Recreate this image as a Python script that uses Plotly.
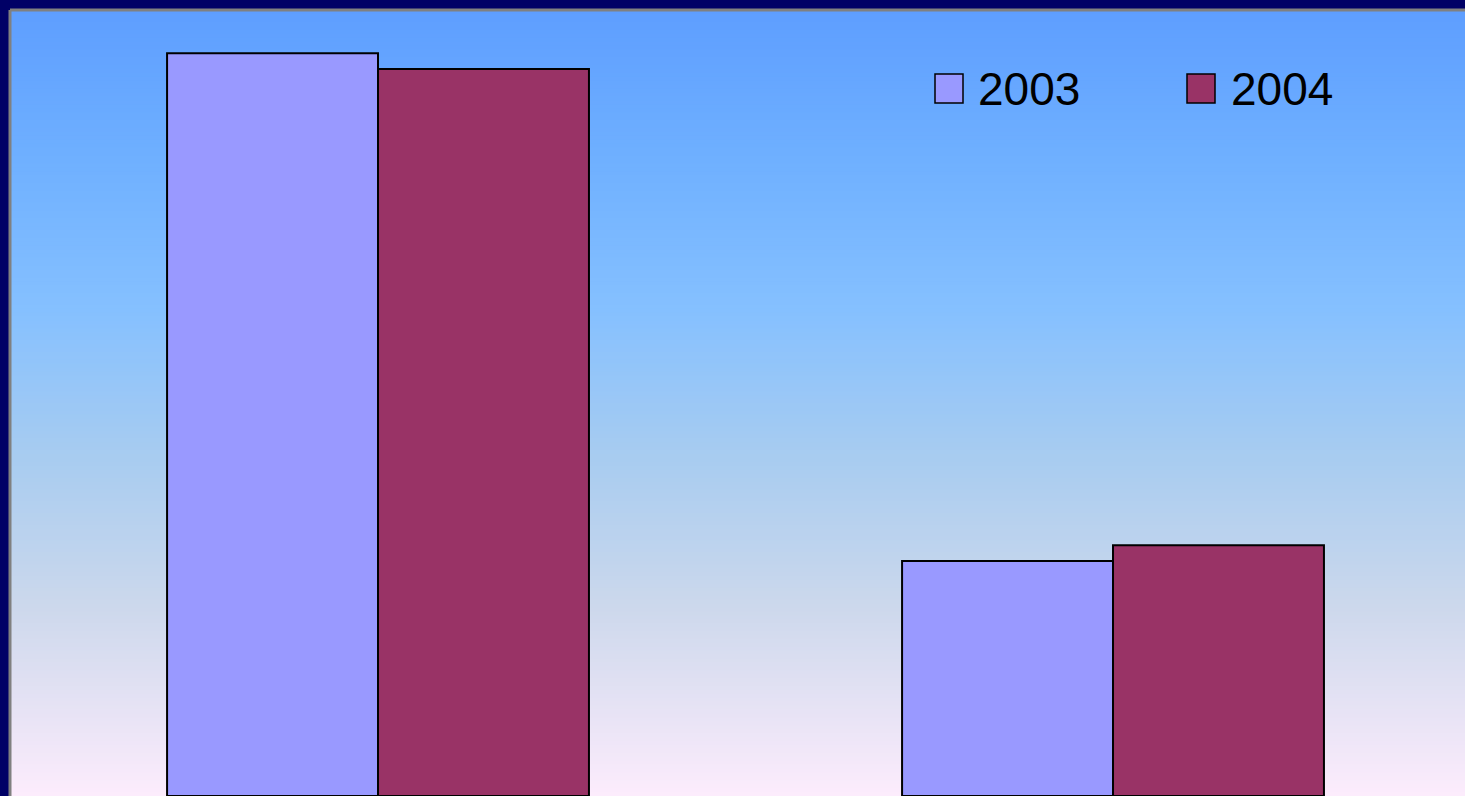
import plotly.graph_objects as go

# ---- data ----
categories = ["Category 1", "Category 2"]
series_names = ["2003", "2004"]
values_2003 = [94.5, 29.9]
values_2004 = [92.5, 31.9]
series_colors = ["#9999FF", "#993366"]

# ---- gradient stops for plot background (fraction from top, rgb) ----
grad_stops = [
    (0.0, (94, 158, 255)),
    (0.19, (111, 176, 255)),
    (0.38, (133, 192, 255)),
    (0.57, (168, 204, 240)),
    (0.76, (204, 216, 236)),
    (1.0, (253, 236, 252)),
]


def interp(f):
    for (f0, c0), (f1, c1) in zip(grad_stops[:-1], grad_stops[1:]):
        if f0 <= f <= f1:
            t = (f - f0) / (f1 - f0) if f1 > f0 else 0
            return "rgb(%d,%d,%d)" % tuple(round(a + (b - a) * t) for a, b in zip(c0, c1))
    return "rgb(%d,%d,%d)" % grad_stops[-1][1]


fig = go.Figure()
for name, vals, col in zip(series_names, [values_2003, values_2004], series_colors):
    fig.add_trace(go.Bar(
        x=categories, y=vals, name=name,
        marker=dict(color=col, line=dict(color="black", width=2)),
    ))

shapes = []
n = 200
for i in range(n):
    f0 = i / n
    f1 = (i + 1) / n
    shapes.append(dict(type="rect", xref="paper", yref="paper",
                       x0=0, x1=1, y0=1 - f1 - 0.001, y1=1 - f0,
                       fillcolor=interp((f0 + f1) / 2), line=dict(width=0),
                       layer="below"))
# inset gray edge on left and top
shapes.append(dict(type="line", xref="paper", yref="paper", x0=0, x1=0, y0=0, y1=1,
                   line=dict(color="#808080", width=3), layer="above"))
shapes.append(dict(type="line", xref="paper", yref="paper", x0=0, x1=1, y0=1, y1=1,
                   line=dict(color="#808080", width=3), layer="above"))

# custom legend (large squares)
W, H = 1465, 796
ml, mt = 10, 10
pw, ph = W - ml, H - mt
def px(x):
    return (x - ml) / pw
def py(y):
    return 1 - (y - mt) / ph

leg_sq_x = [935, 1187]
leg_txt_x = [976, 1229]
annotations = []
for name, col, sx, tx in zip(series_names, series_colors, leg_sq_x, leg_txt_x):
    shapes.append(dict(type="rect", xref="paper", yref="paper",
                       x0=px(sx), x1=px(sx + 28), y0=py(103), y1=py(74),
                       fillcolor=col, line=dict(color="black", width=1.5), layer="above"))
    annotations.append(dict(xref="paper", yref="paper", x=px(tx), y=py(89),
                            xanchor="left", yanchor="middle", text=name, showarrow=False,
                            font=dict(family="Liberation Sans, Arial", size=46, color="black")))

fig.update_layout(
    width=W, height=H, autosize=False,
    margin=dict(l=ml, r=0, t=mt, b=0, pad=0),
    paper_bgcolor="#000066",
    plot_bgcolor="rgba(0,0,0,0)",
    barmode="group", bargap=0.426, bargroupgap=0,
    showlegend=False,
    shapes=shapes, annotations=annotations,
    xaxis=dict(range=[-0.5007, 1.4789], showticklabels=False, showgrid=False,
               zeroline=False, showline=False, ticks=""),
    yaxis=dict(range=[0, 100], showticklabels=False, showgrid=False,
               zeroline=False, showline=False, ticks=""),
)

fig.write_html(
    "out.html",
    config={"displayModeBar": False},
    post_script="document.body.style.margin='0';document.body.style.overflow='hidden';",
)
